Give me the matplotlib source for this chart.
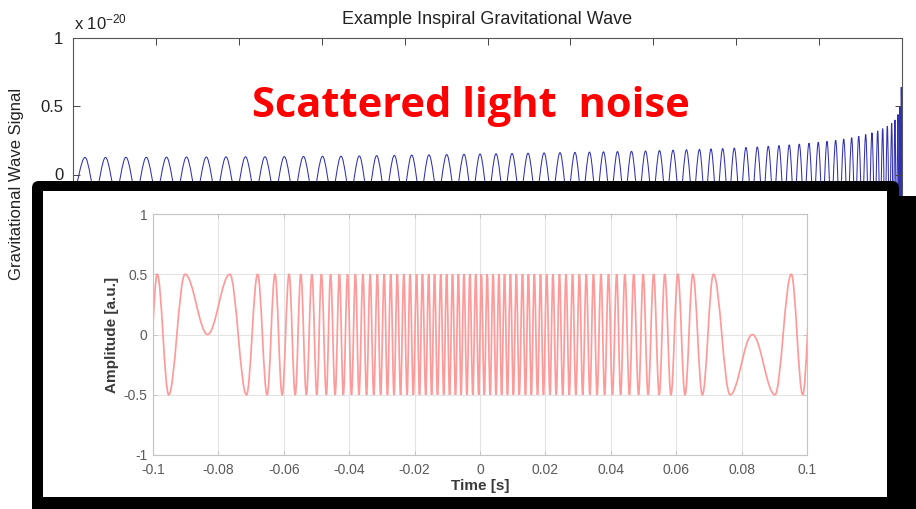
import numpy as np
import matplotlib
matplotlib.use('Agg')
import matplotlib.pyplot as plt
from matplotlib.path import Path
from matplotlib.patches import PathPatch, FancyBboxPatch, Rectangle

plt.rcParams['font.family'] = ['Liberation Sans', 'DejaVu Sans']
plt.rcParams['axes.unicode_minus'] = False
plt.rcParams['mathtext.fontset'] = 'custom'
plt.rcParams['mathtext.rm'] = 'Liberation Sans'
plt.rcParams['mathtext.it'] = 'Liberation Sans:italic'

# background chart: inspiral wave, peak positions and peak heights (x 1e-20)
gw_peak_x = [0.145, 0.392, 0.639, 0.884, 1.128, 1.369, 1.608, 1.846, 2.081, 2.316,
             2.549, 2.780, 3.010, 3.233, 3.454, 3.663, 3.876, 4.086, 4.294, 4.508,
             4.717, 4.910, 5.103, 5.296, 5.489, 5.682, 5.875, 6.055, 6.230, 6.399,
             6.568, 6.737, 6.906, 7.075, 7.238, 7.400, 7.557, 7.696, 7.837, 7.977,
             8.118, 8.255, 8.387, 8.516, 8.640, 8.761, 8.878, 8.990, 9.095, 9.200,
             9.297, 9.393, 9.478, 9.562, 9.638, 9.707, 9.767, 9.823, 9.876, 9.915,
             9.952, 9.976, 9.991]
gw_peak_amp = [0.125, 0.125, 0.126, 0.126, 0.127, 0.128, 0.128, 0.129, 0.130, 0.130,
               0.131, 0.132, 0.133, 0.134, 0.136, 0.138, 0.140, 0.142, 0.144, 0.146,
               0.148, 0.150, 0.152, 0.154, 0.156, 0.158, 0.160, 0.162, 0.164, 0.166,
               0.168, 0.170, 0.172, 0.175, 0.178, 0.181, 0.184, 0.187, 0.190, 0.194,
               0.198, 0.202, 0.207, 0.212, 0.217, 0.223, 0.229, 0.236, 0.243, 0.251,
               0.260, 0.270, 0.281, 0.293, 0.306, 0.320, 0.336, 0.354, 0.375, 0.400,
               0.440, 0.500, 0.640]
gw_xticks = list(range(11))
gw_yticks = [-1, -0.5, 0, 0.5, 1]

# inset: scattered light fringes, times of maxima / minima and turning points
sl_peak_t = [-0.0987, -0.0902, -0.0765, -0.0680, -0.0627, -0.0584, -0.0548, -0.0514,
             -0.0485, -0.0457, -0.0430, -0.0405, -0.0381, -0.0358, -0.0336, -0.0314,
             -0.0293, -0.0273, -0.0253, -0.0233, -0.0214, -0.0194, -0.0176, -0.0157,
             -0.0139, -0.0120, -0.0102, -0.0084, -0.0066, -0.0049, -0.0031, -0.0013,
             0.0004, 0.0022, 0.0040, 0.0058, 0.0075, 0.0093, 0.0111, 0.0130,
             0.0148, 0.0166, 0.0185, 0.0204, 0.0223, 0.0243, 0.0263, 0.0283,
             0.0304, 0.0325, 0.0347, 0.0370, 0.0393, 0.0418, 0.0443, 0.0470,
             0.0499, 0.0531, 0.0565, 0.0605, 0.0651, 0.0714, 0.0952, 0.1016]
sl_trough_t = [-0.1016, -0.0952, -0.0714, -0.0651, -0.0605, -0.0565, -0.0531, -0.0499,
               -0.0470, -0.0443, -0.0418, -0.0393, -0.0370, -0.0347, -0.0325, -0.0304,
               -0.0283, -0.0263, -0.0243, -0.0223, -0.0204, -0.0185, -0.0166, -0.0148,
               -0.0130, -0.0111, -0.0093, -0.0075, -0.0058, -0.0040, -0.0022, -0.0004,
               0.0013, 0.0031, 0.0049, 0.0066, 0.0084, 0.0102, 0.0120, 0.0139,
               0.0157, 0.0176, 0.0194, 0.0214, 0.0233, 0.0253, 0.0273, 0.0293,
               0.0314, 0.0336, 0.0358, 0.0381, 0.0405, 0.0430, 0.0457, 0.0485,
               0.0514, 0.0548, 0.0584, 0.0627, 0.0680, 0.0765, 0.0902, 0.0987]
sl_turn_t = [-0.0833, 0.0833]
sl_amp = 0.5
sl_xticks = [-0.1, -0.08, -0.06, -0.04, -0.02, 0, 0.02, 0.04, 0.06, 0.08, 0.1]
sl_yticks = [-1, -0.5, 0, 0.5, 1]


def wave_path(ext):
    # smooth curve through extrema (flat tangent at each one)
    k = 1 - 2 / np.pi
    verts = [ext[0]]
    codes = [Path.MOVETO]
    for (x0, y0), (x1, y1) in zip(ext[:-1], ext[1:]):
        dx = x1 - x0
        verts += [(x0 + k * dx, y0), (x1 - k * dx, y1), (x1, y1)]
        codes += [Path.CURVE4] * 3
    return Path(verts, codes)


W, H = 916, 509
fig = plt.figure(figsize=(W / 100, H / 100), dpi=100)
fig.patch.set_facecolor('white')

# ---------------- background chart
ax = fig.add_axes([73 / W, 1 - 311 / H, 829 / W, 273 / H], zorder=1)
gw_ext = [(0.0, -gw_peak_amp[0])]
for i in range(len(gw_peak_x)):
    gw_ext.append((gw_peak_x[i], gw_peak_amp[i]))
    if i + 1 < len(gw_peak_x):
        gw_ext.append(((gw_peak_x[i] + gw_peak_x[i + 1]) / 2,
                       -(gw_peak_amp[i] + gw_peak_amp[i + 1]) / 2))
gw_ext.append((10.0, -0.6))
ax.add_patch(PathPatch(wave_path(gw_ext), fc='none', ec='#3030b4', lw=0.75))
ax.set_xlim(0, 10)
ax.set_ylim(-1, 1)
ax.set_xticks(gw_xticks)
ax.set_yticks(gw_yticks)
ax.set_yticklabels(['%g' % v for v in gw_yticks])
ax.tick_params(direction='in', top=True, right=True, length=5, width=0.7,
               labelsize=12, pad=7, labelbottom=False, colors='#444444',
               labelcolor='#222222')
for s in ax.spines.values():
    s.set_color('#555555')
    s.set_linewidth(0.8)
ax.set_title('Example Inspiral Gravitational Wave', fontsize=13, pad=10,
             color='#222222')
ax.set_ylabel('Gravitational Wave Signal', fontsize=12, color='#222222')
ax.yaxis.set_label_coords(-0.059, 0.465)
fig.text(74 / W, 1 - 29 / H, r'x 10$^{-20}$', fontsize=12, color='#222222',
         va='baseline', ha='left')

fig.text(252 / W, 1 - 117 / H, 'Scattered light  noise', color='#ff0000',
         fontsize=30, fontweight='bold', family=['Open Sans', 'DejaVu Sans'],
         va='baseline', ha='left', zorder=5)

# ---------------- black frame of the pasted inset
ov = fig.add_axes([0, 0, 1, 1], zorder=2)
ov.set_xlim(0, W)
ov.set_ylim(H, 0)
ov.axis('off')
ov.add_patch(FancyBboxPatch((32, 181), 867, 345,
                            boxstyle='round,pad=0,rounding_size=7',
                            fc='black', ec='none'))
ov.add_patch(Rectangle((885, 196), 40, 320, fc='black', ec='none'))
ov.add_patch(Rectangle((43, 191), 844, 306, fc='white', ec='none'))

# ---------------- inset chart
ax2 = fig.add_axes([153 / W, 1 - 455 / H, 654 / W, 241 / H], zorder=3)
ext = sorted([(t, sl_amp) for t in sl_peak_t] +
             [(t, -sl_amp) for t in sl_trough_t] +
             [(t, 0.0) for t in sl_turn_t])
ax2.add_patch(PathPatch(wave_path(ext), fc='none', ec='#ff9a9a', lw=1.25))
ax2.set_xlim(-0.1, 0.1)
ax2.set_ylim(-1, 1)
ax2.set_xticks(sl_xticks)
ax2.set_xticklabels(['%g' % v for v in sl_xticks])
ax2.set_yticks(sl_yticks)
ax2.set_yticklabels(['%g' % v for v in sl_yticks])
ax2.grid(True, color='#e4e4e4', lw=0.8)
ax2.set_axisbelow(True)
ax2.tick_params(direction='in', top=True, right=True, length=3, width=0.6,
                labelsize=10, colors='#bdbdbd', labelcolor='#5a5a5a')
ax2.tick_params(axis='x', pad=6)
ax2.tick_params(axis='y', pad=4)
for s in ax2.spines.values():
    s.set_color('#c4c4c4')
    s.set_linewidth(0.8)
ax2.set_xlabel('Time [s]', fontsize=11, fontweight='bold', color='#3a3a3a',
               labelpad=1)
ax2.set_ylabel('Amplitude [a.u.]', fontsize=11, fontweight='bold',
               color='#3a3a3a', labelpad=3)

fig.savefig('out.png', dpi=100)
